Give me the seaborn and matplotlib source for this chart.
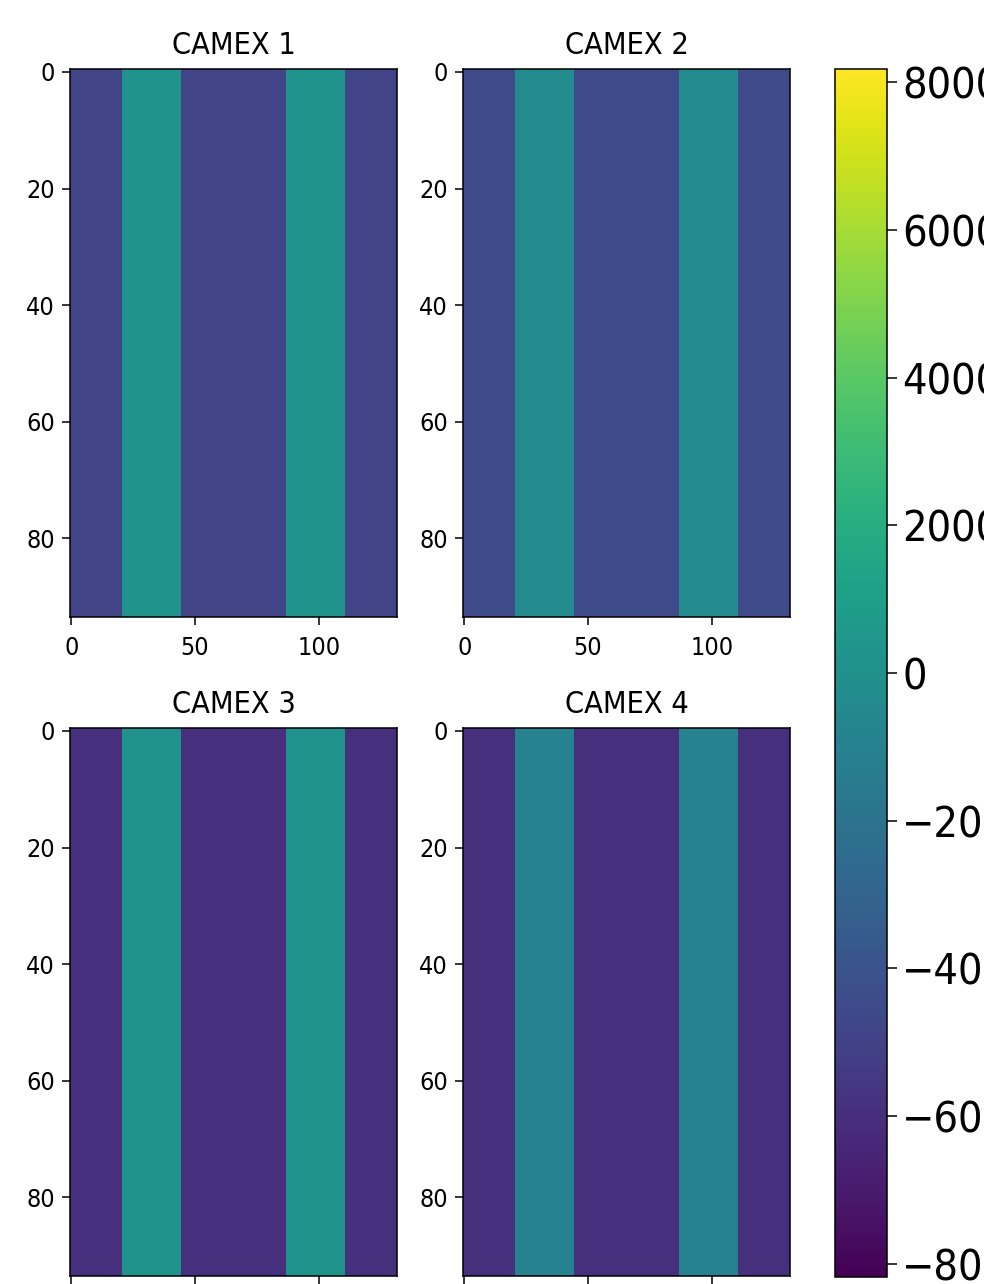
import numpy as np
import matplotlib
matplotlib.use("Agg")
import matplotlib.pyplot as plt
import seaborn as sns

# STYLE
sns.set_style("ticks")
plt.rcParams['font.family'] = ['DejaVu Sans']
plt.rcParams['font.stretch'] = 'condensed'

# DATA
titles = ["CAMEX 1", "CAMEX 2", "CAMEX 3", "CAMEX 4"]
n_rows = 94
n_cols = 132
band_starts = [21, 87]
band_ends = [44, 110]          # inclusive
background_vals = [-4900, -4500, -5900, -5900]
band_vals = [250, -400, 150, -1000]
vmin, vmax = -8180, 8180
x_ticks = [0, 50, 100]
y_ticks = [0, 20, 40, 60, 80]
cbar_ticks = [-8000, -6000, -4000, -2000, 0, 2000, 4000, 6000, 8000]

# LAYOUT (pixels, top-left origin) on a 984x1284 canvas
W, H = 984, 1284
panel_boxes = [(70, 69, 397, 617), (463, 69, 790, 617),
               (70, 728, 397, 1276), (463, 728, 790, 1276)]
cbar_box = (835, 69, 887, 1277)


def to_rect(box):
    x0, y0, x1, y1 = box
    return [x0 / W, 1 - y1 / H, (x1 - x0) / W, (y1 - y0) / H]


fig = plt.figure(figsize=(W / 100, H / 100), dpi=100)

mesh = None
for i in range(4):
    grid = np.full((n_rows, n_cols), background_vals[i], dtype=float)
    for s, e in zip(band_starts, band_ends):
        grid[:, s:e + 1] = band_vals[i]

    ax = fig.add_axes(to_rect(panel_boxes[i]))
    sns.heatmap(grid, ax=ax, cmap="viridis", vmin=vmin, vmax=vmax,
                cbar=False, xticklabels=False, yticklabels=False)
    mesh = ax.collections[0]

    for sp in ax.spines.values():
        sp.set_visible(True)
        sp.set_color("black")
        sp.set_linewidth(1.1)

    ax.set_xticks([t + 0.5 for t in x_ticks])
    ax.set_xticklabels([str(t) for t in x_ticks], rotation=0, fontsize=18)
    ax.set_yticks([t + 0.5 for t in y_ticks])
    ax.set_yticklabels([str(t) for t in y_ticks], rotation=0, fontsize=18)
    ax.tick_params(axis="both", length=6, width=1.1,
                   color="black", labelcolor="black",
                   bottom=True, left=True)
    ax.tick_params(axis="x", pad=8)
    ax.tick_params(axis="y", pad=5)
    ax.set_title(titles[i], fontsize=22, pad=11, color="black")

cax = fig.add_axes(to_rect(cbar_box))
cb = fig.colorbar(mesh, cax=cax)
cb.set_ticks(cbar_ticks)
cb.ax.tick_params(labelsize=31, length=7, width=1.1, pad=4,
                  color="black", labelcolor="black")
cb.outline.set_linewidth(1.1)
cb.outline.set_edgecolor("black")

fig.savefig("out.png", dpi=100)
